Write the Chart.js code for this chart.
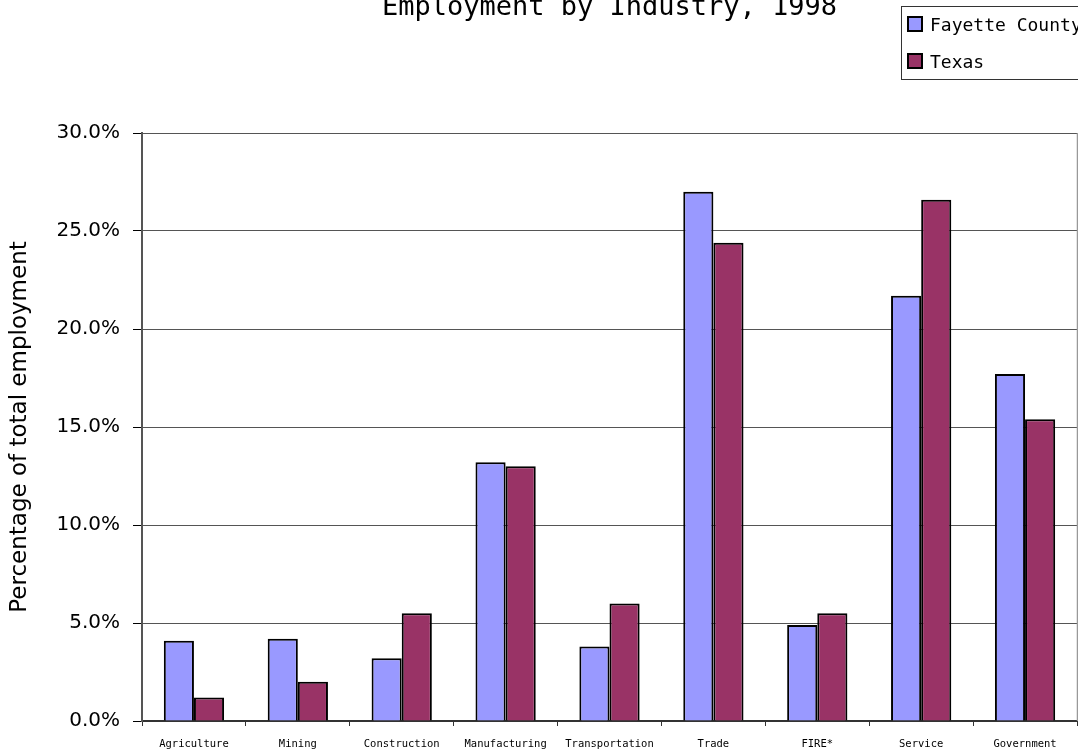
<!DOCTYPE html>
<html>
<head>
<meta charset="utf-8">
<script src="https://cdn.jsdelivr.net/npm/chart.js@4"></script>
<style>
html,body{margin:0;padding:0;background:#fff;}
#wrap{width:1078px;height:753px;position:relative;}
</style>
</head>
<body>
<div id="wrap"><canvas id="c" width="1078" height="753"></canvas></div>
<script>
const chartTitle = "Employment by Industry, 1998";
const yAxisTitle = "Percentage of total employment";
const categories = ["Agriculture","Mining","Construction","Manufacturing","Transportation","Trade","FIRE*","Service","Government"];
const seriesNames = ["Fayette County","Texas"];
const fayetteValues = [4.1, 4.2, 3.2, 13.2, 3.8, 27.0, 4.9, 21.7, 17.7];
const texasValues = [1.2, 2.0, 5.5, 13.0, 6.0, 24.4, 5.5, 26.6, 15.4];
const yTicks = [0, 5, 10, 15, 20, 25, 30];
const colors = ["#9999FF", "#993366"];

const overlay = {
  id: 'overlay',
  afterDraw(chart) {
    const ctx = chart.ctx;
    const ca = chart.chartArea;
    ctx.save();
    // right border of plot area
    ctx.strokeStyle = '#999';
    ctx.lineWidth = 1.5;
    ctx.beginPath();
    ctx.moveTo(ca.right + 0.5, ca.top);
    ctx.lineTo(ca.right + 0.5, ca.bottom);
    ctx.stroke();
    // title
    ctx.fillStyle = '#000';
    ctx.font = '27px "DejaVu Sans Mono"';
    ctx.textAlign = 'center';
    ctx.textBaseline = 'alphabetic';
    ctx.fillText(chartTitle, (ca.left + ca.right) / 2, 15);
    // legend
    ctx.strokeStyle = '#333';
    ctx.lineWidth = 1;
    ctx.strokeRect(901.5, 6.5, 200, 73);
    ctx.font = '18px "DejaVu Sans Mono"';
    ctx.textAlign = 'left';
    chart.data.datasets.forEach((ds, i) => {
      const y = 17 + i * 37;
      ctx.fillStyle = ds.backgroundColor;
      ctx.fillRect(908, y, 14, 14);
      ctx.strokeStyle = '#000';
      ctx.lineWidth = 2;
      ctx.strokeRect(908, y, 14, 14);
      ctx.fillStyle = '#000';
      ctx.fillText(ds.label, 930, y + 14);
    });
    ctx.restore();
  }
};

new Chart(document.getElementById('c'), {
  type: 'bar',
  data: {
    labels: categories,
    datasets: [
      { label: seriesNames[0], data: fayetteValues, backgroundColor: colors[0], borderColor: '#000', borderWidth: 2 },
      { label: seriesNames[1], data: texasValues, backgroundColor: colors[1], borderColor: '#000', borderWidth: 2 }
    ]
  },
  options: {
    responsive: false,
    animation: false,
    layout: { padding: { top: 133, right: 1, left: 0, bottom: 0 } },
    plugins: { legend: { display: false }, tooltip: { enabled: false }, title: { display: false } },
    datasets: { bar: { categoryPercentage: 0.58, barPercentage: 1.0 } },
    scales: {
      x: {
        grid: { display: true, drawOnChartArea: false, tickLength: 5, color: '#333', offset: true },
        border: { color: '#333', width: 2 },
        ticks: { color: '#000', font: { family: 'DejaVu Sans Mono', size: 10.5 }, padding: 12, maxRotation: 0, autoSkip: false },
        afterFit(scale) { scale.height = 32; }
      },
      y: {
        min: 0, max: 30,
        afterBuildTicks(scale) { scale.ticks = yTicks.map(v => ({ value: v })); },
        grid: { color: '#555', lineWidth: 1, tickLength: 9, tickColor: '#000' },
        border: { color: '#555', width: 2 },
        ticks: { color: '#000', font: { family: 'DejaVu Sans', size: 20 }, padding: 13,
          callback: v => Number(v).toFixed(1) + '%' },
        title: { display: true, text: yAxisTitle, color: '#000', font: { family: 'DejaVu Sans', size: 23 }, padding: { top: 6, bottom: 0 } },
        afterFit(scale) { scale.width = 142; }
      }
    }
  },
  plugins: [overlay]
});
</script>
</body>
</html>
